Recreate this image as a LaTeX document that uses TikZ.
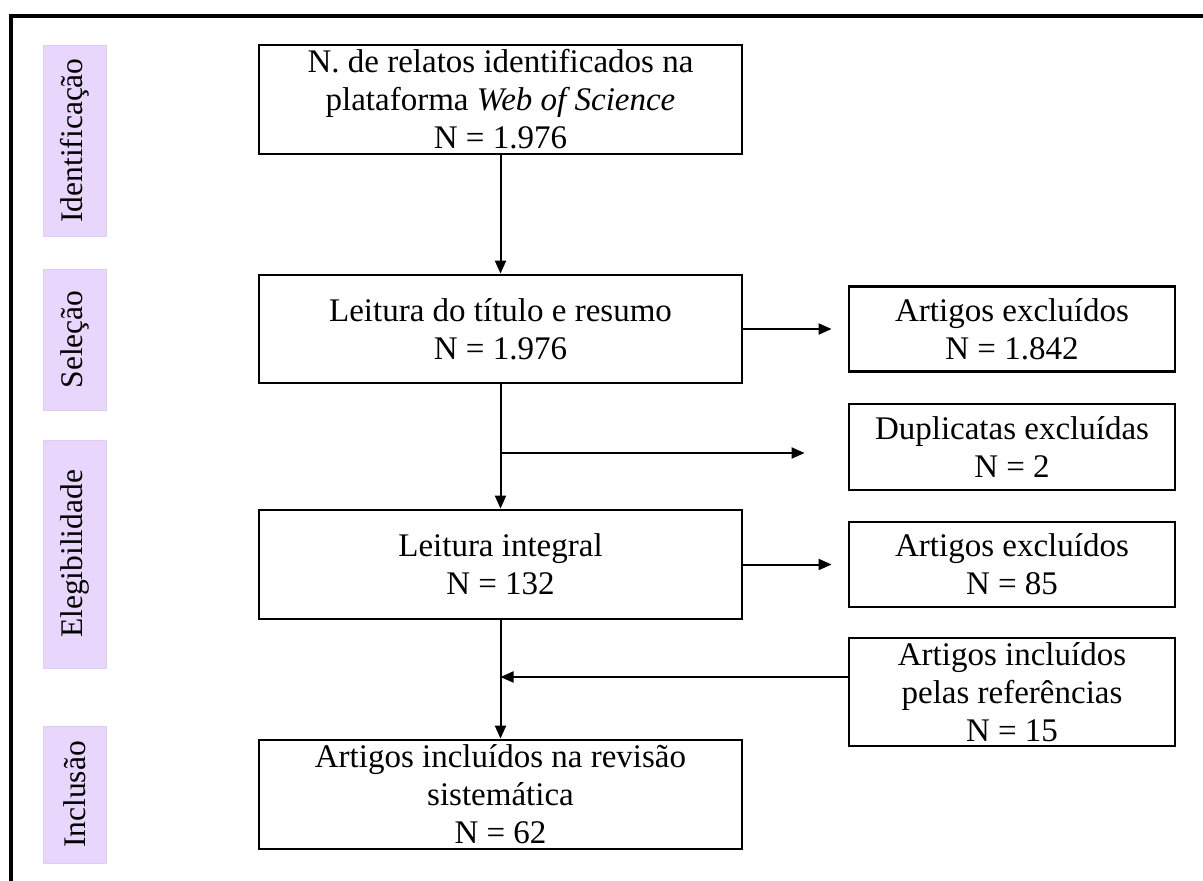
\documentclass[tikz,border=0pt]{standalone}
\usepackage{fontspec}
\setmainfont{Liberation Serif}
\usetikzlibrary{arrows.meta}
\definecolor{phaselilac}{RGB}{232,214,252}
\definecolor{phaseedge}{RGB}{224,204,246}
\newcommand{\widthmain}{483pt}
\newcommand{\widthside}{326pt}
\newcommand{\widthphase}{63pt}
\tikzset{
    common/.style={draw, rectangle, line width=2.8pt, align=center, inner sep=0pt, font=\fontsize{33}{38}\selectfont},
    mainbox/.style={common, minimum width=\widthmain},
    sidebox/.style={common, minimum width=\widthside},
    phase/.style={rectangle, fill=phaselilac, draw=phaseedge, line width=0.8pt, rotate=90, inner sep=0pt, minimum height=\widthphase, font=\fontsize{31.5}{36}\selectfont},
    flow/.style={line width=2pt, -{Triangle[length=13pt, width=11pt]}},
    frame/.style={line width=3.2pt}
}

\begin{document}
\begin{tikzpicture}[x=1pt, y=-1pt]
        \useasboundingbox (0,0) rectangle (1203,881);
        \draw[frame] (1203,16) -| (11,881);

        % phases
        \node[phase, minimum width=191pt] (lblident) at (74.5,140.5) {Identificação};
        \node[phase, minimum width=141pt] (lblselecao) at (74.5,339.5) {Seleção};
        \node[phase, minimum width=228pt] (lblelegib) at (74.5,554) {Elegibilidade};
        \node[phase, minimum width=137pt] (lblinclusao) at (74.5,794.5) {Inclusão};

        % main column
        \node[mainbox, minimum height=109pt] (ident) at (500.5,99.5)
            {N. de relatos identificados na\\plataforma \textit{Web of Science}\\N = 1.976};
        \node[mainbox, minimum height=108pt] (selecao) at (500.5,329)
            {Leitura do título e resumo\\N = 1.976};
        \node[mainbox, minimum height=109pt] (integral) at (500.5,564.5)
            {Leitura integral\\N = 132};
        \node[mainbox, minimum height=109pt] (incluidos) at (500.5,794.5)
            {Artigos incluídos na revisão\\sistemática\\N = 62};

        % side column
        \node[sidebox, minimum height=85pt] (excl1) at (1012,329) {Artigos excluídos\\N = 1.842};
        \node[sidebox, minimum height=86pt] (dup) at (1012,447) {Duplicatas excluídas\\N = 2};
        \node[sidebox, minimum height=85pt] (excl2) at (1012,564.5) {Artigos excluídos\\N = 85};
        \node[sidebox, minimum height=108pt] (refs) at (1012,692)
            {Artigos incluídos\\pelas referências\\N = 15};

        \coordinate (dupsplit) at (500.5,453);
        \coordinate (merge) at (500.5,677);

        \draw[flow] (ident) -- (selecao);
        \draw[flow] (selecao) -- (integral);
        \draw[flow] (integral) -- (incluidos);
        \draw[flow, shorten >=16pt] (selecao.east) -- (excl1.west);
        \draw[flow, shorten >=43pt] (dupsplit) -- (dupsplit -| dup.west);
        \draw[flow, shorten >=16pt] (integral.east) -- (excl2.west);
        \draw[flow] (merge -| refs.west) -- (merge);
\end{tikzpicture}
\end{document}
